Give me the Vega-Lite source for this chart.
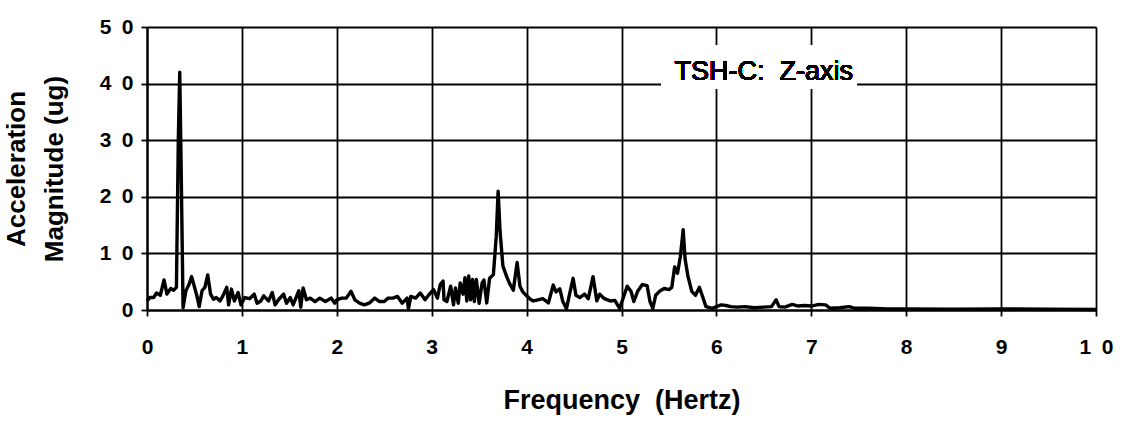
{
  "$schema": "https://vega.github.io/schema/vega-lite/v6.json",
  "width": 949,
  "height": 283,
  "autosize": {"type": "none"},
  "padding": {"left": 147, "top": 27, "right": 25, "bottom": 117},
  "background": "white",
  "config": {
    "view": {"stroke": null},
    "axis": {
      "grid": true,
      "gridColor": "black",
      "gridWidth": 1.8,
      "gridOpacity": 1,
      "domainColor": "black",
      "domainWidth": 2.2,
      "tickColor": "black",
      "tickWidth": 1.8,
      "tickSize": 6,
      "format": "d",
      "labelFlush": false,
      "labelOverlap": false,
      "labelFont": "Liberation Sans",
      "labelFontWeight": "bold",
      "labelFontSize": 21,
      "labelColor": "black",
      "labelExpr": "datum.value >= 10 ? floor(datum.value / 10) + '\u2002' + (datum.value % 10) : format(datum.value, 'd')",
      "titleFont": "Liberation Sans",
      "titleFontWeight": "bold",
      "titleColor": "black"
    }
  },
  "data": {
    "values": [
      {"f": 0.00, "a": 1.6}, {"f": 0.03, "a": 2.2}, {"f": 0.07, "a": 2.2}, {"f": 0.10, "a": 3.0},
      {"f": 0.14, "a": 2.6}, {"f": 0.18, "a": 5.3}, {"f": 0.21, "a": 2.8}, {"f": 0.25, "a": 3.8},
      {"f": 0.28, "a": 3.5}, {"f": 0.31, "a": 4.0}, {"f": 0.33, "a": 30}, {"f": 0.345, "a": 42},
      {"f": 0.36, "a": 25}, {"f": 0.38, "a": 0.4}, {"f": 0.41, "a": 3.4}, {"f": 0.44, "a": 4.4},
      {"f": 0.47, "a": 5.9}, {"f": 0.49, "a": 4.7}, {"f": 0.53, "a": 2.2}, {"f": 0.55, "a": 0.6},
      {"f": 0.58, "a": 3.4}, {"f": 0.61, "a": 4.0}, {"f": 0.64, "a": 6.2}, {"f": 0.67, "a": 2.8},
      {"f": 0.70, "a": 1.9}, {"f": 0.73, "a": 2.2}, {"f": 0.77, "a": 1.6}, {"f": 0.80, "a": 2.5},
      {"f": 0.84, "a": 4.0}, {"f": 0.86, "a": 0.9}, {"f": 0.89, "a": 3.7}, {"f": 0.92, "a": 1.6},
      {"f": 0.96, "a": 3.1}, {"f": 0.99, "a": 0.9}, {"f": 1.03, "a": 2.2}, {"f": 1.08, "a": 2.0},
      {"f": 1.13, "a": 2.8}, {"f": 1.16, "a": 1.2}, {"f": 1.20, "a": 1.6}, {"f": 1.23, "a": 2.5},
      {"f": 1.28, "a": 1.6}, {"f": 1.32, "a": 3.1}, {"f": 1.35, "a": 0.9}, {"f": 1.39, "a": 1.9},
      {"f": 1.44, "a": 2.8}, {"f": 1.47, "a": 1.2}, {"f": 1.51, "a": 2.2}, {"f": 1.54, "a": 0.9},
      {"f": 1.60, "a": 3.4}, {"f": 1.62, "a": 0.5}, {"f": 1.645, "a": 3.9}, {"f": 1.68, "a": 1.8},
      {"f": 1.72, "a": 2.1}, {"f": 1.77, "a": 1.5}, {"f": 1.82, "a": 2.1}, {"f": 1.88, "a": 1.5},
      {"f": 1.94, "a": 2.1}, {"f": 1.98, "a": 1.2}, {"f": 2.00, "a": 1.8}, {"f": 2.05, "a": 2.1},
      {"f": 2.10, "a": 2.1}, {"f": 2.15, "a": 3.3}, {"f": 2.19, "a": 1.8}, {"f": 2.24, "a": 1.2},
      {"f": 2.29, "a": 0.9}, {"f": 2.34, "a": 1.2}, {"f": 2.40, "a": 2.1}, {"f": 2.45, "a": 1.5},
      {"f": 2.50, "a": 1.5}, {"f": 2.54, "a": 2.1}, {"f": 2.59, "a": 2.1}, {"f": 2.64, "a": 2.4},
      {"f": 2.69, "a": 1.2}, {"f": 2.74, "a": 2.1}, {"f": 2.755, "a": 0.2}, {"f": 2.78, "a": 2.4},
      {"f": 2.83, "a": 2.1}, {"f": 2.88, "a": 3.0}, {"f": 2.93, "a": 1.8}, {"f": 2.97, "a": 2.7},
      {"f": 3.02, "a": 3.6}, {"f": 3.06, "a": 2.1}, {"f": 3.09, "a": 4.5}, {"f": 3.12, "a": 5.1},
      {"f": 3.13, "a": 1.8}, {"f": 3.16, "a": 1.5}, {"f": 3.20, "a": 4.2}, {"f": 3.23, "a": 0.9},
      {"f": 3.25, "a": 3.9}, {"f": 3.28, "a": 1.2}, {"f": 3.30, "a": 4.8}, {"f": 3.33, "a": 2.8},
      {"f": 3.35, "a": 5.7}, {"f": 3.37, "a": 1.6}, {"f": 3.39, "a": 6.0}, {"f": 3.41, "a": 1.8},
      {"f": 3.43, "a": 5.4}, {"f": 3.45, "a": 1.5}, {"f": 3.47, "a": 5.4}, {"f": 3.50, "a": 1.2},
      {"f": 3.53, "a": 4.7}, {"f": 3.55, "a": 5.3}, {"f": 3.58, "a": 1.25}, {"f": 3.61, "a": 5.6},
      {"f": 3.65, "a": 6.25}, {"f": 3.68, "a": 13}, {"f": 3.70, "a": 21}, {"f": 3.72, "a": 14},
      {"f": 3.75, "a": 7.8}, {"f": 3.79, "a": 5.9}, {"f": 3.82, "a": 4.7}, {"f": 3.86, "a": 3.5},
      {"f": 3.90, "a": 8.4}, {"f": 3.93, "a": 4.2}, {"f": 3.96, "a": 3.2}, {"f": 4.00, "a": 2.5},
      {"f": 4.04, "a": 1.9}, {"f": 4.07, "a": 1.6}, {"f": 4.12, "a": 1.8}, {"f": 4.17, "a": 2.0},
      {"f": 4.23, "a": 1.25}, {"f": 4.28, "a": 4.4}, {"f": 4.31, "a": 3.2}, {"f": 4.35, "a": 3.75},
      {"f": 4.38, "a": 1.6}, {"f": 4.42, "a": 0.2}, {"f": 4.45, "a": 2.6}, {"f": 4.49, "a": 5.6},
      {"f": 4.52, "a": 2.6}, {"f": 4.56, "a": 2.2}, {"f": 4.61, "a": 2.8}, {"f": 4.65, "a": 2.0},
      {"f": 4.70, "a": 5.9}, {"f": 4.74, "a": 1.6}, {"f": 4.77, "a": 2.8}, {"f": 4.82, "a": 2.0},
      {"f": 4.88, "a": 1.6}, {"f": 4.93, "a": 1.7}, {"f": 4.98, "a": 0.3}, {"f": 5.02, "a": 2.2},
      {"f": 5.06, "a": 4.2}, {"f": 5.10, "a": 3.3}, {"f": 5.13, "a": 1.5}, {"f": 5.17, "a": 3.3},
      {"f": 5.22, "a": 4.5}, {"f": 5.27, "a": 4.3}, {"f": 5.30, "a": 1.5}, {"f": 5.33, "a": 0.3},
      {"f": 5.36, "a": 2.6}, {"f": 5.40, "a": 3.3}, {"f": 5.45, "a": 3.8}, {"f": 5.50, "a": 3.6},
      {"f": 5.53, "a": 4.0}, {"f": 5.56, "a": 7.6}, {"f": 5.59, "a": 6.5}, {"f": 5.62, "a": 9.4},
      {"f": 5.65, "a": 14.2}, {"f": 5.67, "a": 9}, {"f": 5.70, "a": 6.0}, {"f": 5.74, "a": 3.3},
      {"f": 5.78, "a": 2.6}, {"f": 5.82, "a": 4.0}, {"f": 5.85, "a": 2.6}, {"f": 5.89, "a": 0.6},
      {"f": 5.96, "a": 0.3}, {"f": 6.00, "a": 0.6}, {"f": 6.05, "a": 0.9}, {"f": 6.10, "a": 0.8},
      {"f": 6.15, "a": 0.6}, {"f": 6.22, "a": 0.5}, {"f": 6.30, "a": 0.6}, {"f": 6.40, "a": 0.4},
      {"f": 6.50, "a": 0.5}, {"f": 6.58, "a": 0.6}, {"f": 6.63, "a": 1.8}, {"f": 6.66, "a": 0.6},
      {"f": 6.72, "a": 0.5}, {"f": 6.80, "a": 1.0}, {"f": 6.86, "a": 0.7}, {"f": 6.93, "a": 0.8},
      {"f": 7.00, "a": 0.7}, {"f": 7.08, "a": 1.0}, {"f": 7.15, "a": 0.9}, {"f": 7.20, "a": 0.3},
      {"f": 7.30, "a": 0.4}, {"f": 7.40, "a": 0.6}, {"f": 7.46, "a": 0.3}, {"f": 7.60, "a": 0.3},
      {"f": 7.80, "a": 0.2}, {"f": 8.00, "a": 0.2}, {"f": 8.50, "a": 0.15}, {"f": 9.00, "a": 0.2},
      {"f": 9.50, "a": 0.15}, {"f": 10.00, "a": 0.1}
    ]
  },
  "layer": [
    {
      "mark": {"type": "line", "color": "black", "strokeWidth": 3.4, "strokeJoin": "round"},
      "encoding": {
        "x": {
          "field": "f", "type": "quantitative",
          "scale": {"domain": [0, 10], "nice": false},
          "axis": {"values": [0,1,2,3,4,5,6,7,8,9,10], "format": "d", "labelPadding": 20, "title": "Frequency\u00a0\u00a0(Hertz)", "titleFontSize": 27, "titlePadding": 30}
        },
        "y": {
          "field": "a", "type": "quantitative",
          "scale": {"domain": [0, 50], "nice": false},
          "axis": {"values": [0,10,20,30,40,50], "format": "d", "labelPadding": 8, "title": ["Acceleration", "Magnitude\u00a0(ug)"], "titleFontSize": 26, "titlePadding": 32, "titleLineHeight": 38}
        }
      }
    },
    {
      "mark": {"type": "rect", "fill": "white"},
      "encoding": {
        "x": {"datum": 5.42}, "x2": {"datum": 7.48},
        "y": {"datum": 39.2}, "y2": {"datum": 46.8}
      }
    },
    {
      "mark": {"type": "text", "font": "Liberation Sans", "fontSize": 27, "color": "black", "align": "center", "baseline": "alphabetic"},
      "encoding": {
        "x": {"datum": 6.5}, "y": {"datum": 40.7},
        "text": {"value": "TSH-C:\u00a0\u00a0Z-axis"}
      }
    }
  ]
}
